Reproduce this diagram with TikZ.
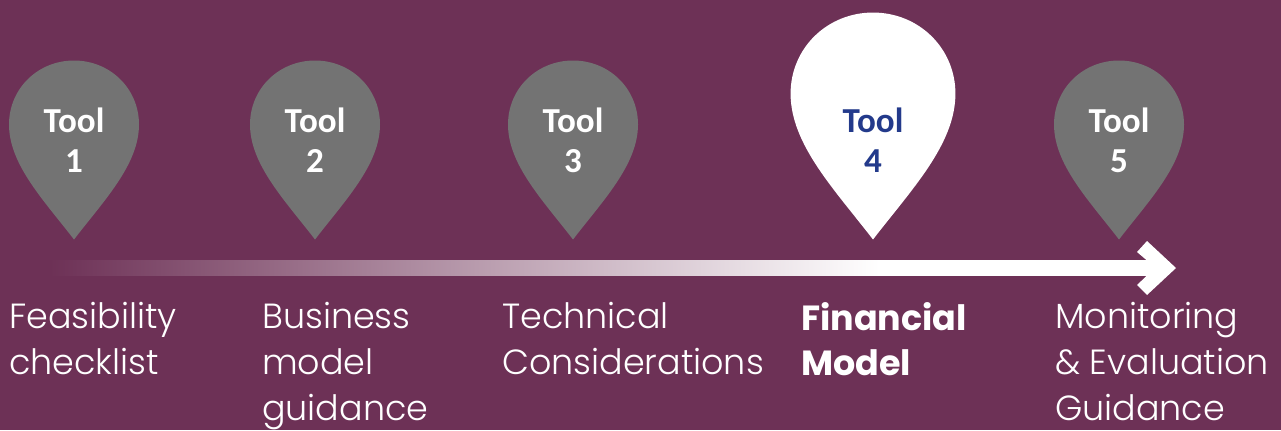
\documentclass[tikz,border=0pt]{standalone}
\usepackage{fontspec}
\usepackage{xcolor}
\setmainfont{Carlito}
\newfontfamily\labelfont{Poppins Light}
\newfontfamily\labelboldfont{Poppins Bold}
\definecolor{plum}{HTML}{6D3156}
\definecolor{pingrey}{HTML}{737373}
\definecolor{toolblue}{HTML}{233A8B}
\pgfdeclarehorizontalshading{barshade}{100bp}{color(0bp)=(plum); color(25bp)=(plum); color(62.8bp)=(white); color(100bp)=(white)}
\tikzset{
        toolpin/.pic = {
            \fill (0,0) .. controls (-30,-39) and (-65,-75) .. (-65,-115)
                .. controls (-65,-151) and (-36,-179) .. (0,-179)
                .. controls (36,-179) and (65,-151) .. (65,-115)
                .. controls (65,-75) and (30,-39) .. (0,0) -- cycle;
        },
        toollabel/.style = {align=center, inner sep=0pt, text=white,
            font=\fontsize{26.3}{30}\selectfont\bfseries},
        steplabel/.style = {align=left, anchor=north west, inner sep=0pt, text=white,
            font=\fontsize{26.2}{34.3}\selectfont\labelfont},
    }
\begin{document}
\begin{tikzpicture}[x=0.75pt,y=-0.75pt]
    \fill[plum] (0,0) rectangle (1281,430);
    \useasboundingbox (0,0) rectangle (1281,430);

    \pic[pingrey] at (74,239.5) {toolpin};
    \pic[pingrey] at (315,239.5) {toolpin};
    \pic[pingrey] at (573,239.5) {toolpin};
    \pic[white,scale=1.268] at (873,239.5) {toolpin};
    \pic[pingrey] at (1119,239.5) {toolpin};

    \node[toollabel] (tool1) at (74,140.5) {Tool\\1};
    \node[toollabel] (tool2) at (315,140.5) {Tool\\2};
    \node[toollabel] (tool3) at (573,140.5) {Tool\\3};
    \node[toollabel,text=toolblue] (tool4) at (873,140.5) {Tool\\4};
    \node[toollabel] (tool5) at (1119,140.5) {Tool\\5};

    % timeline
    \coordinate (barstart) at (50,260.5);
    \coordinate (barend) at (1147,275.5);
    \shade[shading=barshade] (barstart) rectangle (barend);
    \fill[white] (1137,252) -- (1147,241) -- (1176,268) -- (1147,295)
        -- (1137,285) -- (1147,275.5) -- (1147,260.5) -- cycle;

    \node[steplabel] (step1) at (9,302) {Feasibility\\checklist};
    \node[steplabel] (step2) at (262,302) {Business\\model\\guidance};
    \node[steplabel] (step3) at (502,302) {Technical\\Considerations};
    \node[steplabel,font=\fontsize{26.2}{34.3}\selectfont\labelboldfont] (step4) at (801,302) {Financial\\Model};
    \node[steplabel] (step5) at (1055,302) {Monitoring\\\&\ Evaluation\\Guidance};
\end{tikzpicture}
\end{document}
